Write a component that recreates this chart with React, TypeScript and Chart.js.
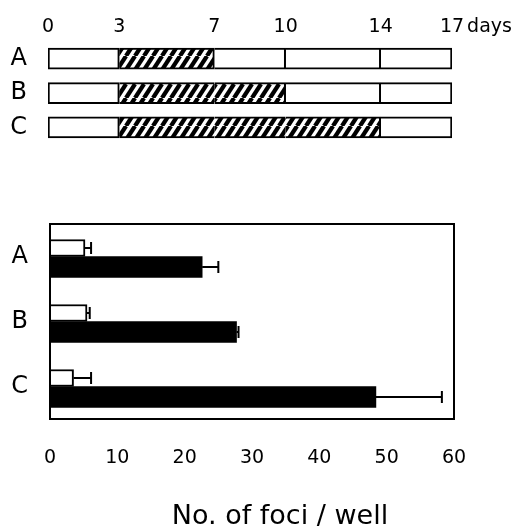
import React, { useEffect, useRef } from 'react';
import { Chart, registerables } from 'chart.js';

Chart.register(...registerables);

// ---- Schedule (top panel) ----
const ROWS = ['A', 'B', 'C'];
const DAY_MARKS = [0, 3, 7, 10, 14, 17];
const TREATMENT_START = [3, 3, 3];
const TREATMENT_END = [7, 10, 14];
const DAYS_UNIT = 'days';

// ---- Foci counts (bottom panel) ----
const GROUPS = ['A', 'B', 'C'];
const CONTROL_FOCI = [5.2, 5.5, 3.5];
const CONTROL_ERR = [0.9, 0.4, 2.6];
const TREATED_FOCI = [22.6, 27.7, 48.4];
const TREATED_ERR = [2.4, 0.3, 9.8];
const FOCI_MIN = 0;
const FOCI_MAX = 60;
const FOCI_STEP = 10;
const X_TITLE = 'No. of foci / well';

const FONT = "'DejaVu Sans', sans-serif";
const TOP_TICK_SIZE = 19;
const TOP_TICK_PAD = 3;

function makeHatch(): CanvasPattern | string {
  const c = document.createElement('canvas');
  const w = 9;
  const h = 14;
  c.width = w;
  c.height = h;
  const g = c.getContext('2d');
  if (!g) return '#888';
  g.fillStyle = '#fff';
  g.fillRect(0, 0, w, h);
  g.strokeStyle = '#000';
  g.lineWidth = 4.2;
  for (let k = -1; k <= 1; k++) {
    g.beginPath();
    g.moveTo(k * w, h);
    g.lineTo(k * w + w, 0);
    g.stroke();
  }
  return g.createPattern(c, 'repeat') || '#888';
}

export default function App() {
  const topRef = useRef<HTMLCanvasElement | null>(null);
  const botRef = useRef<HTMLCanvasElement | null>(null);

  useEffect(() => {
    Chart.defaults.font.family = FONT;
    Chart.defaults.color = '#000';
    const hatch = makeHatch();

    const nSeg = DAY_MARKS.length - 1;
    const isHatched = (row: number, seg: number) =>
      seg >= 0 && seg < nSeg &&
      DAY_MARKS[seg] >= TREATMENT_START[row] && DAY_MARKS[seg + 1] <= TREATMENT_END[row];

    const topDatasets = Array.from({ length: nSeg }, (_, si) => ({
      label: `seg${si}`,
      data: ROWS.map(() => [DAY_MARKS[si], DAY_MARKS[si + 1]]),
      backgroundColor: ROWS.map((_, ri) => (isHatched(ri, si) ? hatch : '#fff')),
      borderColor: '#000',
      borderWidth: (ctx: any) => {
        const ri = ctx.dataIndex;
        const joinNext = isHatched(ri, si) && isHatched(ri, si + 1);
        return { top: 2, bottom: 2, left: si === 0 ? 2 : 0, right: joinNext ? 0 : 2 };
      },
      borderSkipped: false,
      grouped: false,
      categoryPercentage: 1,
      barPercentage: 1,
      maxBarThickness: 21,
    }));

    const daysPlugin = {
      id: 'daysUnit',
      afterDraw(chart: any) {
        const s = chart.scales.x;
        const ctx = chart.ctx;
        ctx.save();
        ctx.font = `${TOP_TICK_SIZE}px ${FONT}`;
        ctx.fillStyle = '#000';
        ctx.textBaseline = 'middle';
        ctx.textAlign = 'left';
        const last = DAY_MARKS[DAY_MARKS.length - 1];
        const x = s.getPixelForValue(last) + ctx.measureText(String(last)).width / 2 + 3;
        const y = s.bottom - TOP_TICK_PAD - (TOP_TICK_SIZE * 1.2) / 2;
        ctx.fillText(DAYS_UNIT, x, y);
        ctx.restore();
      },
    };

    const top = new Chart(topRef.current as HTMLCanvasElement, {
      type: 'bar',
      data: { labels: ROWS, datasets: topDatasets as any },
      options: {
        indexAxis: 'y',
        animation: false,
        responsive: false,
        events: [],
        layout: { padding: { top: 0, left: 0, right: 64, bottom: 17.5 } },
        plugins: { legend: { display: false }, tooltip: { enabled: false } },
        scales: {
          x: {
            type: 'linear',
            position: 'top',
            min: DAY_MARKS[0],
            max: DAY_MARKS[DAY_MARKS.length - 1],
            afterBuildTicks: (s: any) => {
              s.ticks = DAY_MARKS.map((v) => ({ value: v }));
            },
            afterFit: (s: any) => {
              s.height = 41.5;
            },
            grid: { display: false, drawTicks: false },
            border: { display: false },
            ticks: { padding: TOP_TICK_PAD, color: '#000', font: { family: FONT, size: TOP_TICK_SIZE }, maxRotation: 0, autoSkip: false },
          },
          y: {
            type: 'category',
            afterFit: (s: any) => {
              s.width = 48;
            },
            grid: { display: false, drawTicks: false },
            border: { display: false },
            ticks: { padding: 21, color: '#000', font: { family: FONT, size: 24 } },
          },
        },
      } as any,
      plugins: [daysPlugin],
    });

    const errors = [CONTROL_ERR, TREATED_ERR];
    const values = [CONTROL_FOCI, TREATED_FOCI];

    const errPlugin = {
      id: 'errBars',
      afterDatasetsDraw(chart: any) {
        const ctx = chart.ctx;
        const xs = chart.scales.x;
        ctx.save();
        ctx.strokeStyle = '#000';
        ctx.lineWidth = 2;
        errors.forEach((errArr, di) => {
          const meta = chart.getDatasetMeta(di);
          meta.data.forEach((el: any, i: number) => {
            const x0 = xs.getPixelForValue(values[di][i]);
            const x1 = xs.getPixelForValue(values[di][i] + errArr[i]);
            ctx.beginPath();
            ctx.moveTo(x0, el.y);
            ctx.lineTo(x1, el.y);
            ctx.moveTo(x1, el.y - 6);
            ctx.lineTo(x1, el.y + 6);
            ctx.stroke();
          });
        });
        const a = chart.chartArea;
        ctx.lineWidth = 2;
        ctx.strokeRect(a.left, a.top, a.right - a.left, a.bottom - a.top);
        ctx.restore();
      },
      afterDraw(chart: any) {
        const ctx = chart.ctx;
        const a = chart.chartArea;
        ctx.save();
        ctx.font = `27px ${FONT}`;
        ctx.fillStyle = '#000';
        ctx.textAlign = 'center';
        ctx.textBaseline = 'middle';
        ctx.fillText(X_TITLE, (a.left + a.right) / 2 + 28, a.bottom + 98);
        ctx.restore();
      },
    };

    const bot = new Chart(botRef.current as HTMLCanvasElement, {
      type: 'bar',
      data: {
        labels: GROUPS,
        datasets: [
          {
            label: 'control',
            data: CONTROL_FOCI,
            backgroundColor: '#fff',
            borderColor: '#000',
            borderWidth: 2,
            borderSkipped: 'start',
            barThickness: 17,
          },
          {
            label: 'treated',
            data: TREATED_FOCI,
            backgroundColor: '#000',
            borderColor: '#000',
            borderWidth: 0,
            barThickness: 21,
          },
        ],
      },
      options: {
        indexAxis: 'y',
        animation: false,
        responsive: false,
        events: [],
        layout: { padding: { top: 44, left: 0, right: 62, bottom: 0 } },
        plugins: { legend: { display: false }, tooltip: { enabled: false } },
        scales: {
          x: {
            type: 'linear',
            min: FOCI_MIN,
            max: FOCI_MAX,
            afterFit: (s: any) => {
              s.height = 108;
            },
            grid: { display: false, drawTicks: false },
            border: { display: false },
            ticks: { stepSize: FOCI_STEP, padding: 28, color: '#000', font: { family: FONT, size: 19 }, maxRotation: 0 },
          },
          y: {
            type: 'category',
            afterFit: (s: any) => {
              s.width = 50;
            },
            grid: { display: false, drawTicks: false },
            border: { display: false },
            ticks: { padding: 22, color: '#000', font: { family: FONT, size: 24 } },
          },
        },
      } as any,
      plugins: [errPlugin],
    });

    return () => {
      top.destroy();
      bot.destroy();
    };
  }, []);

  return (
    <div style={{ position: 'absolute', left: 0, top: 0, width: 516, height: 527 }}>
      <canvas
        ref={topRef}
        width={516}
        height={180}
        style={{ position: 'absolute', left: 0, top: 0, width: 516, height: 180, display: 'block' }}
      />
      <canvas
        ref={botRef}
        width={516}
        height={347}
        style={{ position: 'absolute', left: 0, top: 180, width: 516, height: 347, display: 'block' }}
      />
    </div>
  );
}
